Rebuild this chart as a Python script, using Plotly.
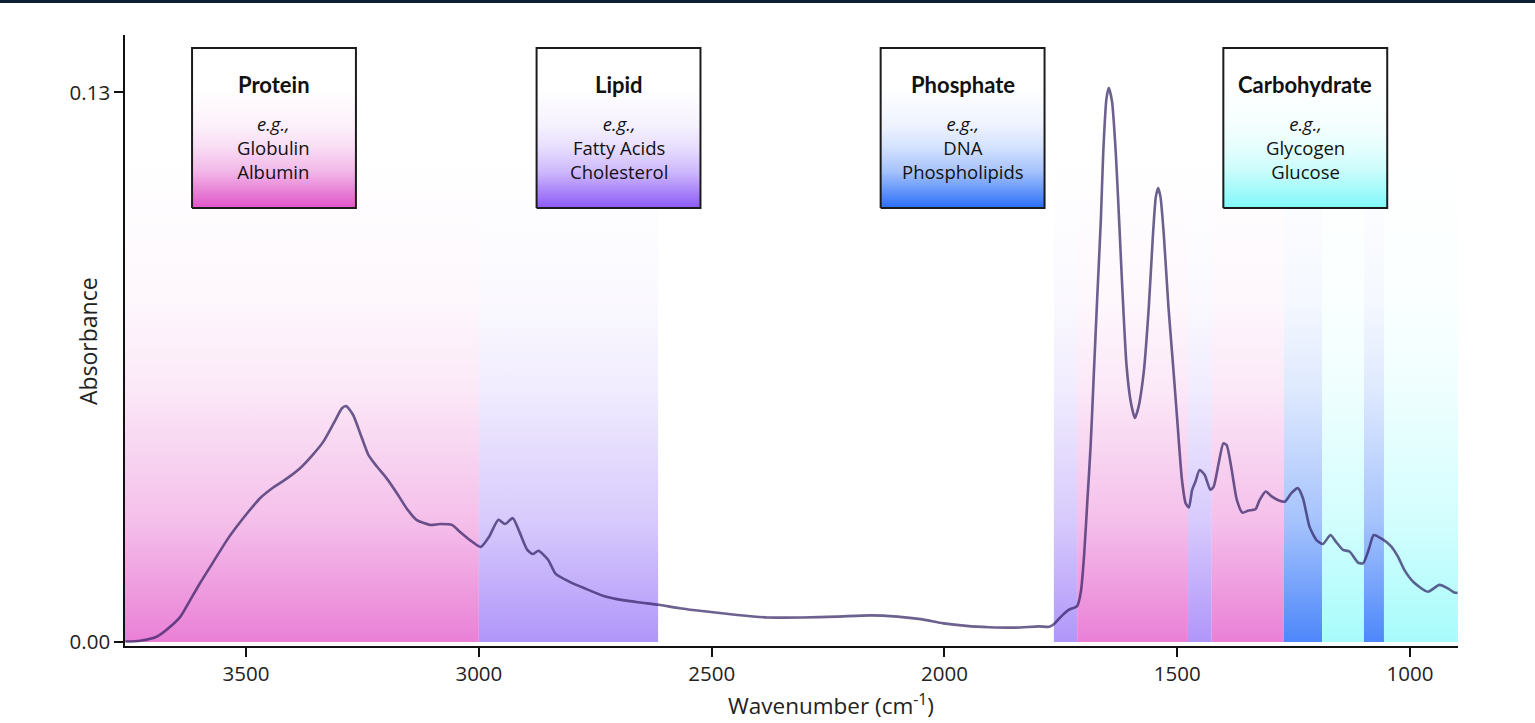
import plotly.graph_objects as go

# ---------------- data ----------------
wavenumber = [3759, 3727, 3691, 3663, 3641, 3620, 3599, 3570, 3541, 3520, 3498, 3470, 3441, 3412,
              3384, 3355, 3334, 3312, 3294, 3285, 3270, 3255, 3237, 3219, 3198, 3176, 3155, 3134,
              3105, 3083, 3058, 3041, 3019, 2996, 2978, 2958, 2944, 2927, 2913, 2896, 2884, 2872,
              2851, 2835, 2806, 2773, 2732, 2691, 2650, 2614, 2569, 2511, 2445, 2380, 2306, 2232,
              2158, 2101, 2051, 2002, 1953, 1904, 1847, 1797, 1775, 1765, 1747, 1733, 1715, 1707,
              1700, 1693, 1686, 1679, 1672, 1664, 1659, 1652, 1647, 1640, 1632, 1625, 1618, 1609,
              1600, 1591, 1584, 1572, 1561, 1552, 1546, 1541, 1536, 1529, 1519, 1509, 1500, 1490,
              1482, 1475, 1468, 1461, 1452, 1441, 1429, 1422, 1411, 1401, 1394, 1383, 1372, 1360,
              1347, 1332, 1323, 1310, 1298, 1284, 1269, 1255, 1241, 1230, 1216, 1201, 1187, 1171,
              1159, 1144, 1130, 1112, 1101, 1089, 1078, 1062, 1041, 1026, 1012, 991, 962, 937,
              919, 905, 898]
absorbance = [0.0001, 0.0003, 0.0013, 0.0036, 0.0060, 0.0099, 0.0139, 0.0190, 0.0241, 0.0273, 0.0304,
              0.0340, 0.0366, 0.0387, 0.0411, 0.0445, 0.0474, 0.0517, 0.0553, 0.0558, 0.0537, 0.0494,
              0.0442, 0.0415, 0.0387, 0.0352, 0.0316, 0.0289, 0.0277, 0.0279, 0.0277, 0.0261, 0.0241,
              0.0225, 0.0249, 0.0289, 0.0279, 0.0293, 0.0261, 0.0218, 0.0208, 0.0216, 0.0194, 0.0161,
              0.0143, 0.0127, 0.0109, 0.0099, 0.0093, 0.0088, 0.0080, 0.0072, 0.0064, 0.0058, 0.0058,
              0.0060, 0.0063, 0.0060, 0.0054, 0.0044, 0.0038, 0.0035, 0.0034, 0.0037, 0.0036, 0.0042,
              0.0063, 0.0076, 0.0085, 0.0119, 0.0206, 0.0335, 0.0465, 0.0638, 0.0811, 0.1001, 0.1157,
              0.1286, 0.1311, 0.1278, 0.1157, 0.1001, 0.0837, 0.0655, 0.0569, 0.0530, 0.0552, 0.0638,
              0.0794, 0.0966, 0.1053, 0.1074, 0.1053, 0.0966, 0.0794, 0.0655, 0.0525, 0.0385, 0.0328,
              0.0318, 0.0360, 0.0379, 0.0407, 0.0395, 0.0360, 0.0367, 0.0423, 0.0470, 0.0466, 0.0407,
              0.0336, 0.0306, 0.0311, 0.0314, 0.0336, 0.0356, 0.0345, 0.0336, 0.0332, 0.0352, 0.0364,
              0.0340, 0.0273, 0.0241, 0.0232, 0.0253, 0.0237, 0.0218, 0.0214, 0.0188, 0.0186, 0.0218,
              0.0253, 0.0245, 0.0227, 0.0202, 0.0170, 0.0140, 0.0119, 0.0135, 0.0127, 0.0117, 0.0116]

band_start = [3760, 3000, 1765, 1715, 1477, 1426, 1271, 1189, 1099, 1056]
band_end = [3000, 2615, 1715, 1477, 1426, 1271, 1189, 1099, 1056, 897]
band_class = ["Protein", "Lipid", "Lipid", "Protein", "Lipid", "Protein",
              "Phosphate", "Carbohydrate", "Phosphate", "Carbohydrate"]

classes = ["Protein", "Lipid", "Phosphate", "Carbohydrate"]
examples = [["Globulin", "Albumin"], ["Fatty Acids", "Cholesterol"],
            ["DNA", "Phospholipids"], ["Glycogen", "Glucose"]]
box_center = [3440, 2700, 1961, 1225]

x_ticks = [3500, 3000, 2500, 2000, 1500, 1000]
y_ticks = [0.0, 0.13]

# ---------------- styles ----------------
band_rgb = {"Protein": (234, 128, 214), "Lipid": (176, 150, 250),
            "Phosphate": (77, 135, 250), "Carbohydrate": (168, 252, 252)}
box_rgb = {"Protein": (224, 85, 200), "Lipid": (140, 90, 248),
           "Phosphate": (42, 111, 248), "Carbohydrate": (128, 248, 248)}

BAND_TOP = 0.115
BOX_HALF_W = 176
BOX_Y0, BOX_Y1 = 0.1027, 0.1405


def rgba(c, a):
    return f"rgba({c[0]},{c[1]},{c[2]},{a})"


def mix_white(c, a):
    r = [round(255 - (255 - v) * a) for v in c]
    return f"rgb({r[0]},{r[1]},{r[2]})"


fig = go.Figure()

# background class bands
for s, e, cl in zip(band_start, band_end, band_class):
    c = band_rgb[cl]
    fig.add_trace(go.Scatter(
        x=[s, e, e, s, s], y=[0, 0, BAND_TOP, BAND_TOP, 0],
        mode="lines", line=dict(width=0), fill="toself",
        fillgradient=dict(type="vertical", start=0, stop=BAND_TOP,
                          colorscale=[[0, rgba(c, 1)], [0.25, rgba(c, 0.5)],
                                      [0.52, rgba(c, 0.18)], [0.7, rgba(c, 0.06)],
                                      [1, rgba(c, 0)]]),
        hoverinfo="skip", showlegend=False))

# spectrum
fig.add_trace(go.Scatter(
    x=wavenumber, y=absorbance, mode="lines",
    line=dict(color="rgba(45,30,95,0.7)", width=2.6, shape="spline", smoothing=0.6),
    showlegend=False, name="Spectrum"))

# class label boxes
for cl, ex, xc in zip(classes, examples, box_center):
    c = box_rgb[cl]
    x0, x1 = xc + BOX_HALF_W, xc - BOX_HALF_W
    fig.add_trace(go.Scatter(
        x=[x0, x1, x1, x0, x0], y=[BOX_Y0, BOX_Y0, BOX_Y1, BOX_Y1, BOX_Y0],
        mode="lines", line=dict(color="#1c1c1c", width=2), fill="toself",
        fillgradient=dict(type="vertical", start=BOX_Y0, stop=BOX_Y1,
                          colorscale=[[0, mix_white(c, 1)], [0.23, mix_white(c, 0.42)],
                                      [0.38, mix_white(c, 0.2)], [0.52, mix_white(c, 0.08)],
                                      [0.75, "rgb(255,255,255)"], [1, "rgb(255,255,255)"]]),
        hoverinfo="skip", showlegend=False))
    fig.add_annotation(x=xc, y=0.1318, xref="x", yref="y", showarrow=False,
                       text=f"<b>{cl}</b>", xanchor="center", yanchor="middle",
                       font=dict(family="Lato", size=22, color="#111111"))
    fig.add_annotation(x=xc, y=0.1169, xref="x", yref="y", showarrow=False,
                       text="<i>e.g.,</i><br>" + "<br>".join(ex),
                       xanchor="center", yanchor="middle",
                       font=dict(family="Open Sans", size=18.5, color="#111111"))

# axis titles
fig.add_annotation(x=0.5296, y=-0.0965, xref="paper", yref="paper", showarrow=False,
                   text="Wavenumber (cm<sup>-1</sup>)", xanchor="center", yanchor="middle",
                   font=dict(family="Open Sans", size=22.5, color="#222222"))
fig.add_annotation(x=-0.0278, y=0.499, xref="paper", yref="paper", showarrow=False,
                   text="Absorbance", textangle=-90, xanchor="center", yanchor="middle",
                   font=dict(family="Open Sans", size=23, color="#222222"))

# dark strip along the top edge of the page
fig.add_shape(type="rect", xref="paper", yref="paper", x0=-0.2, x1=1.2,
              y0=1.0524, y1=1.2, fillcolor="#0d1f35", line=dict(width=0), layer="above")

fig.update_layout(
    width=1535, height=723,
    margin=dict(l=125, r=77, t=35, b=77),
    paper_bgcolor="white", plot_bgcolor="white",
    font=dict(family="Open Sans", size=20.5, color="#222222"),
    xaxis=dict(range=[3760, 897], tickvals=x_ticks, ticks="outside", ticklen=9, tickwidth=1.5,
               tickcolor="#111111", showline=True, linecolor="#111111", linewidth=1.5,
               showgrid=False, zeroline=False, tickfont=dict(size=20.5)),
    yaxis=dict(range=[-0.00095, 0.1436], tickvals=y_ticks, tickformat=".2f", ticks="outside",
               ticklen=9, tickwidth=1.5, tickcolor="#111111", showline=True,
               linecolor="#111111", linewidth=1.5, showgrid=False, zeroline=False,
               tickfont=dict(size=20.5)),
)

fig.write_html("out.html", config={"displayModeBar": False},
               post_script="document.body.style.margin='0px';")
